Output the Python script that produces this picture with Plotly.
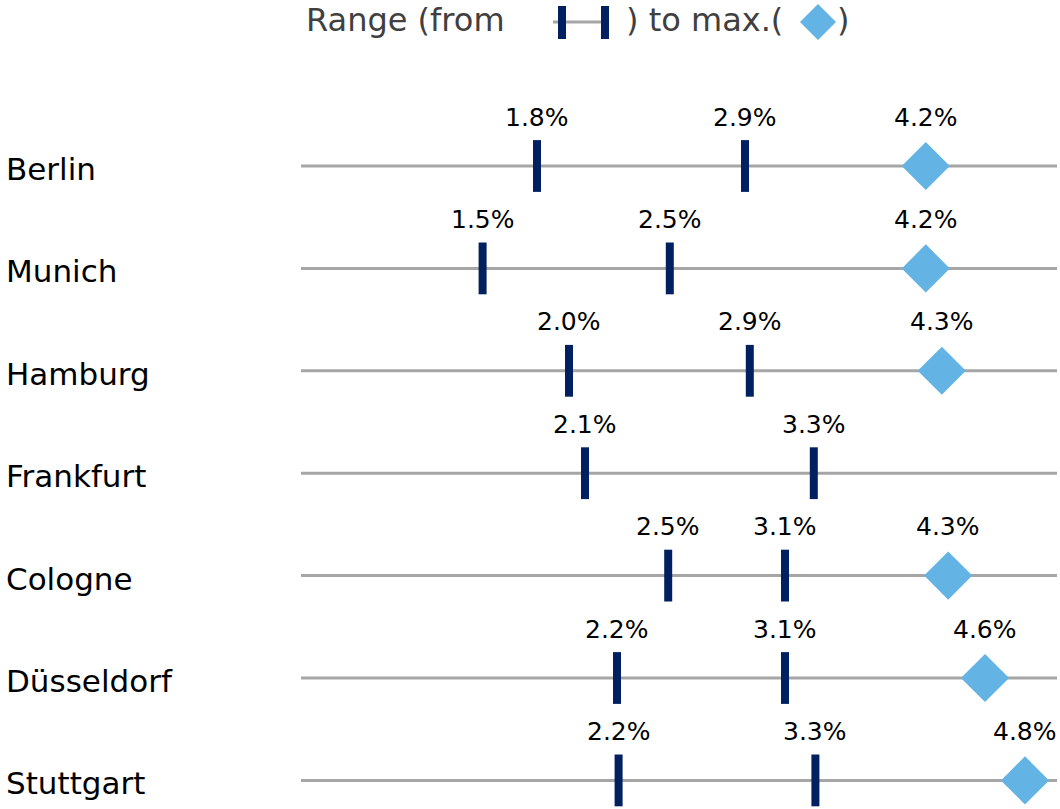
import plotly.graph_objects as go

# ---- data ----
cities = ["Berlin", "Munich", "Hamburg", "Frankfurt", "Cologne", "Düsseldorf", "Stuttgart"]
# marker positions (percent scale)
range_from = [1.70, 1.36, 1.90, 2.00, 2.52, 2.20, 2.21]
range_to = [3.00, 2.53, 3.03, 3.43, 3.25, 3.25, 3.44]
max_val = [4.13, 4.13, 4.23, None, 4.27, 4.50, 4.75]
# printed labels
from_labels = ["1.8%", "1.5%", "2.0%", "2.1%", "2.5%", "2.2%", "2.2%"]
to_labels = ["2.9%", "2.5%", "2.9%", "3.3%", "3.1%", "3.1%", "3.3%"]
max_labels = ["4.2%", "4.2%", "4.3%", None, "4.3%", "4.6%", "4.8%"]

W, H = 1060, 809
NAVY = "#002060"
LBLUE = "#63b4e4"
GRAY = "#a6a6a6"
FONT = "DejaVu Sans"

fig = go.Figure()

# bars (from / to)
for xs in (range_from, range_to):
    fig.add_trace(go.Scatter(
        x=xs, y=cities, mode="markers",
        marker=dict(symbol="line-ns", size=37, line=dict(width=8, color=NAVY), color=NAVY),
        hoverinfo="skip", showlegend=False, cliponaxis=False))

# diamonds (max)
mx = [v for v in max_val if v is not None]
my = [c for c, v in zip(cities, max_val) if v is not None]
fig.add_trace(go.Scatter(
    x=mx, y=my, mode="markers",
    marker=dict(symbol="diamond", size=37, color=LBLUE, line=dict(width=0)),
    hoverinfo="skip", showlegend=False, cliponaxis=False))

shapes = []
annotations = []
# gray range lines
for c in cities:
    shapes.append(dict(type="line", xref="x domain", yref="y", x0=301 / W, x1=1057 / W,
                       y0=c, y1=c, line=dict(color=GRAY, width=3), layer="below"))
    annotations.append(dict(x=4 / W, xref="paper", y=c, yref="y", text=c, showarrow=False,
                            xanchor="left", yanchor="middle", yshift=-3,
                            font=dict(family=FONT, size=31, color="#000000")))

# value labels
for vals, labs in ((range_from, from_labels), (range_to, to_labels), (max_val, max_labels)):
    for c, v, t in zip(cities, vals, labs):
        if v is None:
            continue
        annotations.append(dict(x=v, y=c, xref="x", yref="y", text=t, showarrow=False,
                                xanchor="center", yanchor="middle", yshift=49,
                                font=dict(family=FONT, size=25, color="#000000")))

# legend
def px(x):
    return x / W

def py(y):
    return 1 - y / H

LEG_Y = 20
LEG_FONT = dict(family=FONT, size=32, color="#404040")
annotations.append(dict(x=px(304), y=py(LEG_Y), xref="paper", yref="paper", text="Range (from",
                        showarrow=False, xanchor="left", yanchor="middle", font=LEG_FONT))
annotations.append(dict(x=px(624), y=py(LEG_Y), xref="paper", yref="paper", text=") to max.(",
                        showarrow=False, xanchor="left", yanchor="middle", font=LEG_FONT))
annotations.append(dict(x=px(835), y=py(LEG_Y), xref="paper", yref="paper", text=")",
                        showarrow=False, xanchor="left", yanchor="middle", font=LEG_FONT))
shapes.append(dict(type="line", xref="paper", yref="paper", x0=px(553), x1=px(605),
                   y0=py(22), y1=py(22), line=dict(color=GRAY, width=3)))
for bx in (562, 605):
    shapes.append(dict(type="line", xref="paper", yref="paper", x0=px(bx), x1=px(bx),
                       y0=py(6), y1=py(39), line=dict(color=NAVY, width=8)))
cx, cy, r = 818, 22, 18
shapes.append(dict(type="path", xref="paper", yref="paper",
                   path=f"M {px(cx - r)} {py(cy)} L {px(cx)} {py(cy - r)} L {px(cx + r)} {py(cy)} L {px(cx)} {py(cy + r)} Z",
                   fillcolor=LBLUE, line=dict(width=0)))

row0, step = 166, 102.4
fig.update_layout(
    width=W, height=H,
    margin=dict(l=0, r=0, t=0, b=0),
    paper_bgcolor="white", plot_bgcolor="white",
    xaxis=dict(range=[-265 / 160, (W - 265) / 160], visible=False, fixedrange=True),
    yaxis=dict(type="category", categoryorder="array", categoryarray=cities,
               range=[(H - row0) / step, -row0 / step], visible=False, fixedrange=True),
    shapes=shapes, annotations=annotations,
    showlegend=False,
)

fig.write_html("out.html")
